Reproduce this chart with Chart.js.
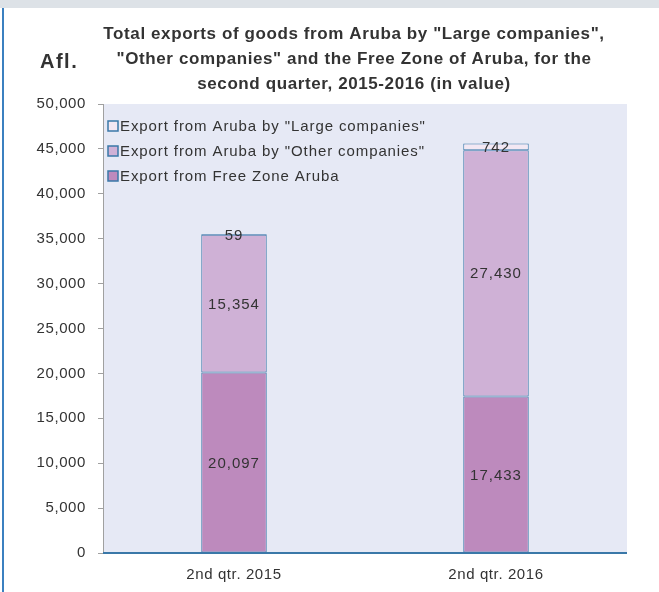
<!DOCTYPE html>
<html>
<head>
<meta charset="utf-8">
<script src="https://cdn.jsdelivr.net/npm/chart.js@4/dist/chart.umd.min.js"></script>
<style>
  html, body { margin: 0; padding: 0; background: #ffffff; }
  #wrap { width: 659px; height: 592px; position: relative; }
</style>
</head>
<body>
<div id="wrap"><canvas id="chart"></canvas></div>
<script>
const categories = ["2nd qtr. 2015", "2nd qtr. 2016"]
const freeZone = [20097, 17433]
const otherCompanies = [15354, 27430]
const largeCompanies = [59, 742]
const yTicks = [0, 5000, 10000, 15000, 20000, 25000, 30000, 35000, 40000, 45000, 50000]
const titleLines = [
  "Total exports of goods from Aruba by \"Large companies\",",
  "\"Other companies\" and the Free Zone of Aruba, for the",
  "second quarter, 2015-2016 (in value)"
]
const unitLabel = "Afl."

const edgeBlue = "#3a78a8"
const textColor = "#333333"
const fontFamily = "'Liberation Sans', Arial, sans-serif"

const fmt = v => v.toLocaleString("en-US")

const framePlugin = {
  id: "frame",
  beforeDraw(chart) {
    const { ctx, chartArea: a } = chart
    // wider spacing, like the airy original font
    ctx.letterSpacing = "0.6px"
    ctx.save()
    ctx.fillStyle = "#dde2e7"
    ctx.fillRect(0, 0, chart.width, 8)
    ctx.strokeStyle = "#3b80c0"
    ctx.lineWidth = 2
    ctx.beginPath()
    ctx.moveTo(3, 8)
    ctx.lineTo(3, chart.height)
    ctx.stroke()
    ctx.fillStyle = "#e6e9f5"
    ctx.fillRect(a.left, a.top, a.right - a.left, a.bottom - a.top)
    ctx.restore()
  },
  afterDatasetsDraw(chart) {
    const { ctx, chartArea: a, scales } = chart
    ctx.save()
    const y0 = scales.y.getPixelForValue(0)
    ctx.strokeStyle = edgeBlue
    ctx.lineWidth = 2
    ctx.beginPath()
    ctx.moveTo(a.left, y0)
    ctx.lineTo(a.right, y0)
    ctx.stroke()

    // data labels at segment centres
    ctx.letterSpacing = "1px"
    ctx.fillStyle = textColor
    ctx.font = "15px " + fontFamily
    ctx.textAlign = "center"
    ctx.textBaseline = "middle"
    chart.data.datasets.forEach((ds, di) => {
      const meta = chart.getDatasetMeta(di)
      meta.data.forEach((bar, i) => {
        ctx.fillText(fmt(ds.data[i]), bar.x, (bar.y + bar.base) / 2 + 1)
      })
    })

    // title
    ctx.letterSpacing = "0.6px"
    ctx.font = "bold 17px " + fontFamily
    titleLines.forEach((line, i) => {
      ctx.fillText(line, 354, 34 + i * 25)
    })
    ctx.letterSpacing = "1.5px"
    ctx.font = "bold 20px " + fontFamily
    ctx.textAlign = "left"
    ctx.fillText(unitLabel, 40, 62)

    // legend (top series first)
    ctx.letterSpacing = "0.9px"
    ctx.font = "15px " + fontFamily
    const items = chart.data.datasets.slice().reverse()
    items.forEach((ds, i) => {
      const cy = 126 + i * 25
      ctx.fillStyle = ds.backgroundColor
      ctx.fillRect(108, cy - 5, 10, 10)
      ctx.strokeStyle = edgeBlue
      ctx.lineWidth = 1.5
      ctx.strokeRect(108, cy - 5, 10, 10)
      ctx.fillStyle = textColor
      ctx.fillText(ds.label, 120, cy + 1)
    })
    ctx.restore()
  }
}

const barStyle = {
  borderColor: edgeBlue,
  borderWidth: 1,
  borderSkipped: false,
  barPercentage: 0.5,
  categoryPercentage: 0.5
}

new Chart(document.getElementById("chart"), {
  type: "bar",
  data: {
    labels: categories,
    datasets: [
      { label: "Export from Free Zone Aruba", data: freeZone, backgroundColor: "#bd8abd", ...barStyle },
      { label: "Export from Aruba by \"Other companies\"", data: otherCompanies, backgroundColor: "#cfb1d6", ...barStyle },
      { label: "Export from Aruba by \"Large companies\"", data: largeCompanies, backgroundColor: "#f3e8f3", ...barStyle }
    ]
  },
  options: {
    responsive: true,
    maintainAspectRatio: false,
    animation: false,
    layout: { padding: { left: 0, right: 32, top: 104, bottom: 0 } },
    plugins: {
      legend: { display: false },
      tooltip: { enabled: false },
      title: { display: false }
    },
    scales: {
      x: {
        stacked: true,
        grid: { display: false, drawTicks: false },
        border: { display: false },
        ticks: {
          color: textColor,
          padding: 13,
          font: { family: fontFamily, size: 15 }
        },
        afterFit(scale) { scale.height = 39 }
      },
      y: {
        stacked: true,
        min: 0,
        max: 50000,
        afterBuildTicks(scale) { scale.ticks = yTicks.map(v => ({ value: v })) },
        grid: { drawOnChartArea: false, tickLength: 5, color: "#a0a0a0" },
        border: { display: true, color: "#a0a0a0", width: 1 },
        ticks: {
          color: textColor,
          padding: 12,
          callback: v => fmt(v),
          font: { family: fontFamily, size: 15 }
        },
        afterFit(scale) { scale.width = 103 }
      }
    }
  },
  plugins: [framePlugin]
})
</script>
</body>
</html>
